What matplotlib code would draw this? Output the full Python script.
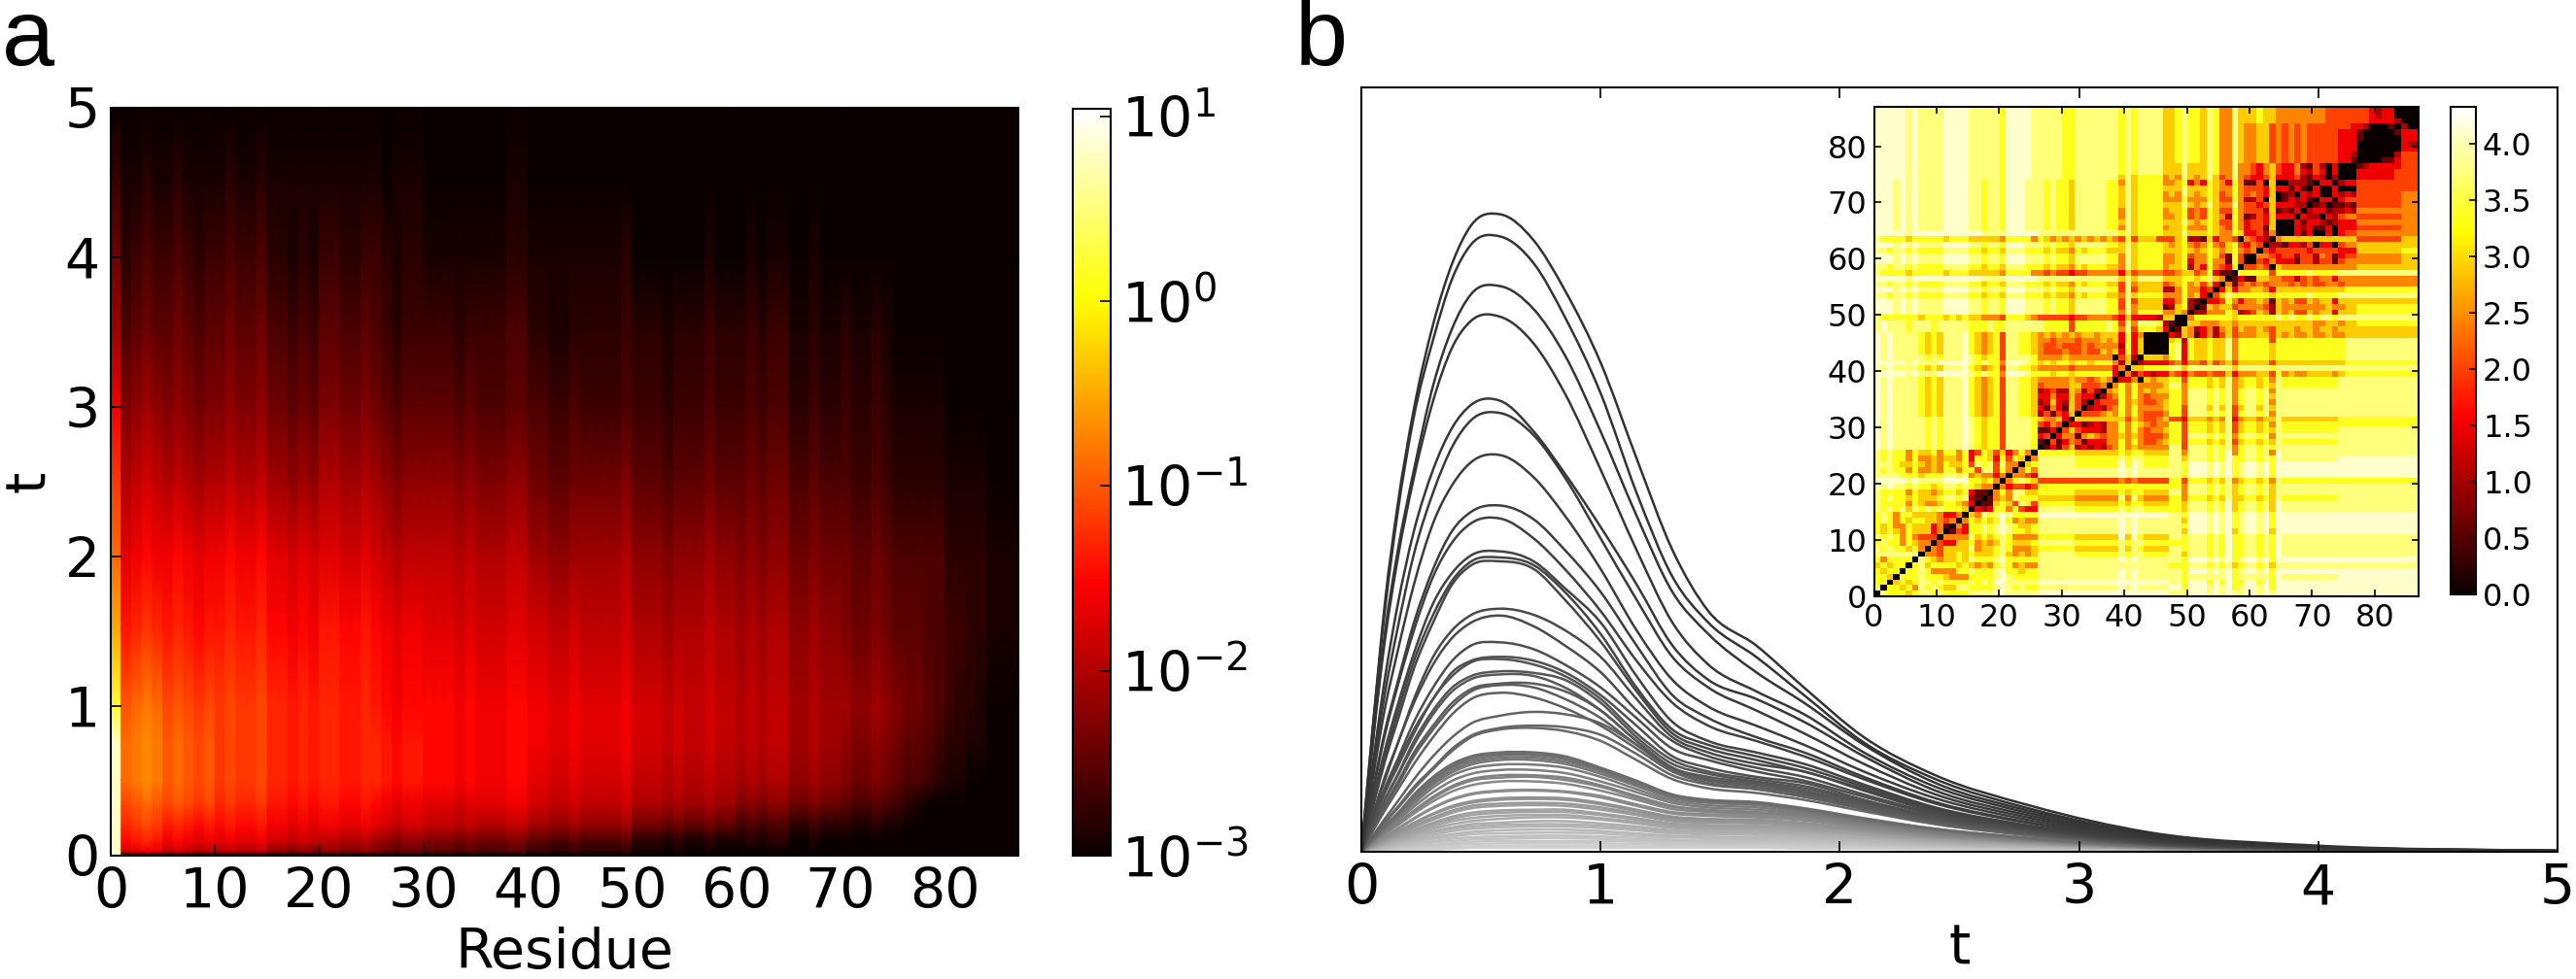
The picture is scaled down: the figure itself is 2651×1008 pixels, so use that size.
import numpy as np
import matplotlib
matplotlib.use("Agg")
import matplotlib.pyplot as plt
from matplotlib.colors import LogNorm
from matplotlib.patches import PathPatch
from matplotlib.path import Path

W, H = 2651, 1008

# ---- panel a: one code per residue (0..86) for each time; code k means 10**(-3 + 0.1*k)
heat_t = [0, 0.03, 0.1, 0.2, 0.35, 0.5, 0.75, 1, 1.5, 2, 2.5, 3, 3.5, 4, 4.5, 5]
heat_rows = [
    "C",
    "Ccdedbcbab abaab88787 8877876566 5554544455 3322322223 1110100100",
    "Cfghgefede deddeccbcb bbaab98788 7776766677 5544544445 2221211211 1212200100",
    "Chijighgfg fgffgeeded eeddedcbcc bbbabaaabb 9988988889 6665655655 3434422322 2112110000",
    "Cjklkjkjij hihhiggfgf ggffgfedee dddcddddee ccbbcbbbbc aaa9a99a99 7878866766 5445432100",
    "Clmnmklkjk ijiijhhghg hhgghhgfgg fffefeeeff ddccdccccd bbbabaabaa 9a9aa88988 7667654432 1100000",
    "Clmnmklkjk ijiijhhghg hhgghhgfgg fffefeeeff eeddedddde cccbcbbcbb ababb99a99 8778765543 2211000",
    "wklmljkjij ijiijhhghg hhgghgfeff fffefeeeff eeddedddde cccbcbbcbb ababb99a99 9889876654 3221000",
    "pghihghgfg ghgghffefe ggffgfedee dddcdcccdd ccbbcbbbbc aaa9aaabaa 9a9aa88988 7667655544 3322111",
    "ldefeefede efeefddcdc ddccdcbabb bbbabaaabb 998899999a 8887888988 7878866766 6556544444 2222111",
    "iabcbaba9a abaab99898 aa99a98788 8887877788 6655666667 5554555655 5656644544 4334322222 1111000",
    "e789878767 7877866565 7766765455 5554544455 4433433334 3332333433 3434422322 3223211111",
    "9456556545 5655644343 5544543233 3332333344 2211222223 2221222322 2323311211 2112100000",
    "6234334323 3433422121 3322332122 1111111122 1111111112 0000000100 0101100100",
    "3112112111 1211211111 1111110111 0000000011",
    "0",
]
heat_ticks_x = [0, 10, 20, 30, 40, 50, 60, 70, 80]
heat_ticks_y = [0, 1, 2, 3, 4, 5]

# ---- panel b: curves read at these times (height in % of the axes)
curve_t = [0, .05, .1, .15, .22, .3, .38, .46, .58, .72, .85, 1, 1.15, 1.3, 1.45, 1.65, 1.85, 2.1, 2.4, 2.8, 3.3, 4, 5]
curves = [
    [0, 17, 33, 45, 58, 69, 77, 82, 83.4, 80, 73.5, 64, 51.5, 39.5, 31.5, 27, 21.5, 15, 10, 6, 2.5, .8, .1],
    [0, 17, 32, 44, 57, 67, 75, 79.5, 80.5, 77, 70, 60, 47, 36, 30, 25.5, 20.5, 14.3, 9.5, 5.6, 2.3, .7, .1],
    [0, 15, 29, 39, 50, 61, 68.5, 73, 74, 71, 65, 55, 44, 34, 28.5, 23.5, 19.5, 14, 9, 5.3, 2.2, .7, .1],
    [0, 15, 28, 38, 49, 59, 66, 69.5, 70, 66.5, 60, 50, 39.5, 30, 24.5, 21, 18, 13, 8.5, 5, 2, .6, .1],
    [0, 12, 23, 32, 42, 50, 55.5, 58.5, 59, 55, 49.5, 42.5, 35, 27, 22.5, 20, 17, 12.5, 8, 4.7, 1.9, .6, .1],
    [0, 11, 21, 29, 39, 47, 53, 56.5, 57.4, 54.5, 49, 41, 33, 25.5, 21.5, 18.5, 15.5, 11.5, 7.5, 4.4, 1.8, .5, .1],
    [0, 10, 19, 26, 35, 43, 48, 51, 51.9, 49, 44, 37, 29, 22.5, 19, 16.5, 14, 10.5, 7, 4.1, 1.7, .5, .1],
    [0, 8.5, 16, 22, 30, 37, 42, 44.5, 45.3, 43.5, 39.5, 34, 27, 20.5, 17.5, 15, 13, 9.8, 6.5, 3.8, 1.6, .5, .1],
    [0, 8, 15.5, 21.5, 29, 36, 40.5, 43, 43.6, 41, 37, 31.5, 25, 19.5, 16.5, 14.5, 12.5, 9.5, 6.3, 3.7, 1.5, .5, .1],
    [0, 7, 13.5, 19, 26, 32.5, 36.5, 38.8, 39.3, 38, 34.5, 30, 23, 17, 14.5, 13, 11.5, 8.8, 5.8, 3.4, 1.4, .4, .1],
    [0, 6.5, 12.5, 18, 25, 31, 35.5, 38, 38.5, 37.5, 34, 28.5, 21.5, 16, 14, 12.5, 11, 8.5, 5.6, 3.3, 1.4, .4, .1],
    [0, 6, 12, 17, 24, 30, 35, 37.5, 38, 37, 33, 27.5, 21, 15.5, 13.5, 12, 10.5, 8.2, 5.4, 3.2, 1.3, .4, .1],
    [0, 5, 10, 14, 20, 25.5, 29, 31, 31.8, 31, 29, 25.5, 20, 15, 13, 11.5, 10.5, 8, 5.2, 3.1, 1.3, .4, .1],
    [0, 5, 9.5, 14, 19.5, 24.5, 28, 30, 30.9, 29.5, 27, 23.5, 18.5, 14.5, 12.5, 11, 9.8, 7.5, 5, 3, 1.2, .4, .1],
    [0, 4.5, 8.5, 12, 17, 21.5, 25, 27, 27.4, 26.5, 24.5, 21.5, 17.5, 13.5, 12, 10.5, 9.3, 7.2, 4.8, 2.9, 1.2, .4, .1],
    [0, 4, 8, 11.5, 16, 20, 23.5, 25, 25.5, 25, 23.5, 20.5, 16.5, 12.5, 11, 9.8, 9, 6.8, 4.6, 2.8, 1.1, .3, .1],
    [0, 4, 7.8, 11, 15.5, 20, 23, 24.8, 25.2, 24.5, 23, 20, 15.5, 12, 10.5, 9.5, 8.6, 6.6, 4.5, 2.7, 1.1, .3, .1],
    [0, 3.5, 7, 10, 14.5, 18.5, 21.5, 23, 23.6, 23.4, 22.5, 19.5, 15, 11.5, 10.2, 9.2, 8.3, 6.4, 4.3, 2.6, 1, .3, .1],
    [0, 3.5, 6.8, 9.8, 14, 18, 21, 22.6, 23.2, 23, 21.5, 18.5, 14.5, 11, 9.8, 9, 8, 6.2, 4.2, 2.5, 1, .3, .1],
    [0, 3.2, 6.2, 9, 13, 16.5, 19.5, 21.3, 22, 22, 21, 18.5, 14.5, 11, 9.5, 8.8, 7.8, 6, 4.1, 2.4, 1, .3, .1],
    [0, 3, 6, 8.6, 12.5, 16, 19, 21, 21.8, 21.5, 20, 17.5, 14, 10.8, 9.3, 8.5, 7.5, 5.8, 4, 2.4, 1, .3, .1],
    [0, 2.8, 5.5, 8, 11.5, 15, 18, 20, 20.8, 20.2, 18.8, 16.5, 13.5, 10.5, 9, 8.2, 7.2, 5.6, 3.8, 2.3, .9, .3, .1],
    [0, 2.2, 4.4, 6.5, 9.5, 12.5, 15, 16.8, 17.8, 18.3, 18, 16.8, 14, 11, 9.5, 8.8, 7.6, 5.8, 3.9, 2.3, .9, .3, .1],
    [0, 2, 4, 5.8, 8.5, 11, 13.5, 15.2, 16.2, 16.5, 16.3, 15.3, 12.8, 10, 8.8, 8.2, 7.2, 5.6, 3.7, 2.2, .9, .3, .1],
    [0, 2, 3.9, 5.6, 8.2, 10.8, 13.2, 15, 16, 16.2, 15.8, 14.5, 12, 9.5, 8.3, 7.7, 6.8, 5.3, 3.6, 2.1, .9, .3, .1],
    [0, 1.8, 3.5, 5, 7.5, 9.8, 11.5, 12.5, 13, 13, 12.5, 11, 9.3, 7.5, 6.8, 6.5, 5.7, 4.4, 3, 1.8, .8, .2, .1],
    [0, 1.7, 3.4, 4.9, 7.2, 9.5, 11.2, 12.3, 12.8, 12.8, 12.3, 10.8, 9.2, 7.4, 6.7, 6.4, 5.6, 4.3, 3, 1.8, .8, .2, .1],
    [0, 1.7, 3.3, 4.7, 7, 9.2, 11, 12, 12.6, 12.6, 12.1, 10.7, 9, 7.3, 6.6, 6.3, 5.5, 4.2, 2.9, 1.7, .7, .2, .1],
    [0, 1.6, 3.2, 4.6, 6.8, 9, 10.7, 11.7, 12.3, 12.3, 11.8, 10.5, 8.8, 7.1, 6.5, 6.2, 5.4, 4.1, 2.9, 1.7, .7, .2, .1],
    [0, 1.6, 3.1, 4.5, 6.6, 8.8, 10.4, 11.4, 12, 12, 11.5, 10.2, 8.6, 7, 6.4, 6.1, 5.3, 4, 2.8, 1.7, .7, .2, .1],
    [0, 1.5, 3, 4.3, 6.3, 8.4, 10, 10.9, 11.4, 11.4, 11, 9.8, 8.2, 6.7, 6.1, 5.8, 5.1, 3.9, 2.7, 1.6, .7, .2, .1],
    [0, 1.4, 2.8, 4, 5.9, 7.8, 9.3, 10.2, 10.7, 10.7, 10.3, 9.2, 7.8, 6.4, 5.8, 5.5, 4.9, 3.8, 2.6, 1.6, .7, .2, .1],
    [0, 1.3, 2.6, 3.7, 5.4, 7.2, 8.6, 9.5, 10, 10, 9.7, 8.7, 7.3, 6, 5.5, 5.2, 4.7, 3.6, 2.5, 1.5, .6, .2, .1],
    [0, 1.3, 2.5, 3.6, 5.3, 7, 8.4, 9.3, 9.7, 9.8, 9.4, 8.5, 7.1, 5.9, 5.4, 5.1, 4.6, 3.5, 2.4, 1.5, .6, .2, .1],
    [0, 1.2, 2.4, 3.4, 5, 6.6, 7.9, 8.7, 9.2, 9.2, 8.9, 8, 6.8, 5.6, 5.2, 4.9, 4.4, 3.4, 2.3, 1.4, .6, .2, .1],
    [0, 1, 2.1, 3, 4.4, 5.8, 6.9, 7.6, 8, 8.1, 7.9, 7.3, 6.2, 5.2, 4.9, 4.7, 4.2, 3.2, 2.2, 1.4, .6, .2, .1],
    [0, 1, 2, 2.9, 4.3, 5.7, 6.8, 7.5, 7.9, 8, 7.8, 7.1, 6, 5, 4.7, 4.5, 4.1, 3.1, 2.2, 1.3, .6, .2, .1],
    [0, .9, 1.8, 2.6, 3.8, 5, 6, 6.6, 7, 7.1, 7, 6.4, 5.5, 4.6, 4.3, 4.2, 3.8, 2.9, 2, 1.3, .5, .2, .1],
    [0, .9, 1.7, 2.5, 3.7, 4.9, 5.8, 6.4, 6.8, 6.9, 6.8, 6.2, 5.3, 4.4, 4.1, 4, 3.6, 2.8, 2, 1.2, .5, .2, .1],
    [0, .8, 1.6, 2.3, 3.4, 4.5, 5.4, 6, 6.3, 6.4, 6.3, 5.8, 5, 4.2, 3.9, 3.8, 3.4, 2.7, 1.9, 1.2, .5, .2, .1],
    [0, .8, 1.5, 2.2, 3.2, 4.2, 5.1, 5.7, 6, 6.1, 6, 5.5, 4.8, 4, 3.8, 3.7, 3.3, 2.6, 1.8, 1.1, .5, .1, .1],
    [0, .7, 1.4, 2, 2.9, 3.8, 4.6, 5.1, 5.4, 5.5, 5.5, 5, 4.4, 3.7, 3.5, 3.4, 3.1, 2.4, 1.7, 1.1, .5, .1, .1],
    [0, .6, 1.3, 1.9, 2.7, 3.6, 4.3, 4.8, 5.1, 5.2, 5.2, 4.8, 4.2, 3.5, 3.3, 3.2, 2.9, 2.3, 1.6, 1, .4, .1, .1],
    [0, .6, 1.2, 1.7, 2.5, 3.3, 4, 4.4, 4.7, 4.8, 4.8, 4.4, 3.9, 3.3, 3.1, 3, 2.7, 2.2, 1.5, 1, .4, .1, .1],
    [0, .5, 1.1, 1.6, 2.3, 3, 3.6, 4, 4.3, 4.5, 4.5, 4.2, 3.7, 3.1, 2.9, 2.8, 2.6, 2.1, 1.4, .9, .4, .1, .1],
    [0, .5, 1, 1.4, 2.1, 2.7, 3.2, 3.6, 3.8, 4, 4, 3.7, 3.3, 2.8, 2.7, 2.6, 2.4, 1.9, 1.3, .9, .4, .1, .1],
    [0, .4, .9, 1.3, 1.9, 2.5, 3, 3.3, 3.5, 3.6, 3.6, 3.4, 3, 2.6, 2.5, 2.4, 2.2, 1.8, 1.2, .8, .4, .1, .1],
    [0, .4, .8, 1.2, 1.7, 2.2, 2.7, 3, 3.2, 3.3, 3.3, 3.1, 2.8, 2.4, 2.3, 2.2, 2, 1.6, 1.1, .7, .3, .1, .1],
    [0, .3, .7, 1, 1.5, 1.9, 2.3, 2.6, 2.8, 2.9, 2.9, 2.7, 2.4, 2.1, 2, 1.9, 1.8, 1.4, 1, .7, .3, .1, .1],
    [0, .3, .6, .9, 1.3, 1.7, 2, 2.3, 2.4, 2.5, 2.5, 2.4, 2.1, 1.9, 1.8, 1.7, 1.6, 1.3, .9, .6, .3, .1, .1],
    [0, .2, .5, .7, 1.1, 1.4, 1.7, 1.9, 2, 2.1, 2.1, 2, 1.8, 1.6, 1.5, 1.5, 1.4, 1.1, .8, .5, .2, .1, .1],
    [0, .2, .4, .6, .9, 1.2, 1.4, 1.6, 1.7, 1.8, 1.8, 1.7, 1.5, 1.4, 1.3, 1.3, 1.2, 1, .7, .5, .2, .1, 0],
    [0, .2, .3, .5, .7, .9, 1.1, 1.3, 1.4, 1.4, 1.4, 1.4, 1.3, 1.1, 1.1, 1.1, 1, .8, .6, .4, .2, .1, 0],
    [0, .1, .3, .4, .6, .7, .9, 1, 1.1, 1.1, 1.1, 1.1, 1, .9, .9, .9, .8, .7, .5, .3, .2, .1, 0],
    [0, .1, .2, .3, .4, .5, .6, .7, .8, .8, .8, .8, .7, .7, .7, .7, .6, .5, .4, .3, .1, 0, 0],
    [0, .1, .1, .2, .3, .3, .4, .5, .5, .5, .5, .5, .5, .5, .5, .5, .4, .4, .3, .2, .1, 0, 0],
]
curve_ticks = [0, 1, 2, 3, 4, 5]

# ---- inset: lower triangle of the distance map, one digit per cell
inset_levels = [0, 0.6, 1.05, 1.5, 2.0, 2.45, 2.9, 3.35, 3.75, 4.1]
# far-field stretches that repeat from row to row (columns 0-25 or 0-38)
L = "9898888767" "6888976567" "488776"
L2 = "9999989888" "9999987877" "599987"
L3 = "9898888878" "7888987677" "488887"
A = "9998989888" "8999988788" "7999888787" "768888877"
B = "9999989888" "8999988888" "7999988888" "778888888"
C = "8878878777" "7888877677" "6888777676" "657677766"
D = "8777767777" "7677766666" "5777755454" "434455555"
E = "8777777677" "7676766555" "4777654444" "434455554"
F = "9999989999" "9999999888" "8999998888" "888888888"
G = "8988878887" "8888877787" "7888888777" "747777787"
stem = "7878888667" "8776875586" "6676655555" "55544"
stem2 = "7878888667" "8776875586" "5566454545" "44444"
inset_rows = [
    "0", "80", "770", "7760", "76770", "676770", "7577770", "88888880", "878776750", "7877576550",
    "87875754440", "767657666350", "7675576663510", "78757677665450", "787577666653350",
    "8787868787877760", "87777576556776530", "878776766678878210", "8777757665677673110",
    "98988787767887876550", "999998988889999776750", "8888777677788785655350",
    "87877575565775774884750", "888766765657667487848550", "8787757556566573776374760",
    "87877576675775734764635750",
    L3 + "0", L3 + "10", L3 + "340", L3 + "1130", L3 + "43540", L3 + "655630",
    L + "2414360", L + "31531640", L + "236326420", L + "3353364330", L + "23422652420",
    L + "455556644450", L + "5555565545650",
    L2 + "77677677777730", L + "555554555555350", L2 + "6767767767775260",
    L3 + "55556555555504620", L + "544454454465637360", L + "5445444545555273600",
    L + "55455545556563736000", L + "565656566566637350000",
    G + "584777630", G + "4858887210", E + "3633332660", A + "5857777556" + "50",
    A + "4856666126" + "720", A + "4846666335" + "7210", C + "5867777555" + "75630",
    A + "4846666225" + "755340", C + "4856666456" + "7564630", F + "6868888666" + "77678650",
    D + "3645555445" + "664573110", C + "5867777566" + "7253754370",
    A + "5867777556" + "7355755174" + "0",
    A + "5867777556" + "7455764174" + "00", C + "6867777666" + "7656765675" + "450",
    A + "6867777656" + "7545754674" + "3540", D[:26] + "7656565656565" + "4746664446" + "7221635540" + "54320",
    F + "7867777666" + "8666765576" + "334250", A + "5867777566" + "7555765475" + "3441600",
    A + "6867777666" + "8656764475" + "34436000", A + "5867777556" + "7454765275" + "124363330",
    A + "5867777566" + "7454764475" + "4442612130", A + "6867777666" + "8656865585" + "4434633322" + "0",
    A + "6867777555" + "7555764475" + "2240601323" + "10", A + "6867777565" + "8656764575" + "4543601203" + "230",
    A + "6867777666" + "8666765575" + "4443633131" + "0300", A + "5867777556" + "7353765375" + "1140600222" + "10330",
    B + "6867777565" + "8656864585" + "4334633342" + "132020", B + "7878888666" + "8666875585" + "5435643353" + "2430300",
    B + "7878888666" + "8666875585" + "5435643352" + "14203000",
    B + stem2 + "3310", B + stem2 + "33200", B + stem2 + "333000", B + stem2 + "3330000",
    B + stem2 + "33310000", B + stem2 + "333100000", B + stem2 + "4433200010",
    B + stem + "44444333320", B + stem + "444443233000", B + stem + "4444432330000",
]
inset_ticks = [0, 10, 20, 30, 40, 50, 60, 70, 80]
inset_cbar_ticks = [0, 0.5, 1, 1.5, 2, 2.5, 3, 3.5, 4]


def px_axes(fig, left, top, right, bottom):
    # axes position given in pixels of the picture, top-left origin
    return fig.add_axes([left / W, 1 - bottom / H, (right - left) / W, (bottom - top) / H])


def style_ticks(ax, size, length=8):
    ax.tick_params(which="both", direction="in", top=True, right=True, labelsize=size,
                   length=length, width=1.2, pad=8)
    for s in ax.spines.values():
        s.set_linewidth(1.5)


def curve_path(x, y):
    # draws through the read values with bezier segments, so the peaks do not look cut
    x, y = np.asarray(x, float), np.asarray(y, float)
    m = np.gradient(y, x)
    verts, codes = [(x[0], y[0])], [Path.MOVETO]
    for i in range(len(x) - 1):
        d = (x[i + 1] - x[i]) / 3
        verts += [(x[i] + d, y[i] + m[i] * d), (x[i + 1] - d, y[i + 1] - m[i + 1] * d), (x[i + 1], y[i + 1])]
        codes += [Path.CURVE4] * 3
    return Path(verts, codes)


CODES = "0123456789abcdefghijklmnopqrstuvwxyzABCDEFG"
heat = np.zeros((len(heat_t), 87))
for i, row in enumerate(heat_rows):
    row = row.replace(" ", "").ljust(87, "0")[:87]
    heat[i] = [10 ** (-3 + 0.1 * CODES.index(c)) for c in row]

dist = np.zeros((87, 87))
for i, row in enumerate(inset_rows):
    row = row.ljust(i + 1, "6")[:i + 1]
    dist[i, :i + 1] = [inset_levels[int(c)] for c in row]
dist = dist + np.tril(dist, -1).T
np.fill_diagonal(dist, 0)

fig = plt.figure(figsize=(W / 100, H / 100), dpi=100, facecolor="white")

# panel a
ax = px_axes(fig, 114, 111, 1047.5, 881)
# doubled x edges keep each residue flat, colour only blends along t
x_edges = np.repeat(np.arange(88), 2)[1:-1]
mesh = ax.pcolormesh(x_edges, heat_t, np.repeat(heat, 2, axis=1), shading="gouraud",
                     cmap="hot", norm=LogNorm(1e-3, 11))
ax.set_xlim(0, 87)
ax.set_ylim(0, 5)
ax.set_xticks(heat_ticks_x)
ax.set_yticks(heat_ticks_y)
style_ticks(ax, 41)
ax.set_xlabel("Residue", fontsize=41, labelpad=5)
ax.set_ylabel("t", fontsize=41, labelpad=6)

cax = px_axes(fig, 1104, 112, 1143, 881)
cb = fig.colorbar(mesh, cax=cax)
cb.set_ticks([1e-3, 1e-2, 1e-1, 1, 10])
cb.ax.minorticks_off()
cb.ax.tick_params(direction="in", labelsize=41, length=8, width=1.2, pad=8)
cb.outline.set_linewidth(1.5)

# panel b
bx = px_axes(fig, 1401, 90, 2632, 877)
n = len(curves)
for i, c in reversed(list(enumerate(curves))):
    grey = 0.2 + 0.62 * (i / (n - 1)) ** 1.3
    bx.add_patch(PathPatch(curve_path(curve_t, c), fill=False, edgecolor=str(grey), lw=1.8))
bx.set_xlim(0, 5)
bx.set_ylim(0, 100)
bx.set_xticks(curve_ticks)
bx.set_yticks([])
style_ticks(bx, 41)
bx.set_xlabel("t", fontsize=41, labelpad=5)

# inset
ix = px_axes(fig, 1928.5, 110, 2489, 614)
im = ix.imshow(dist, origin="lower", cmap="hot", vmin=0, vmax=4.33, extent=[0, 87, 0, 87],
               aspect="auto", interpolation="nearest")
ix.set_xticks(inset_ticks)
ix.set_yticks(inset_ticks)
style_ticks(ix, 23, length=5)
ix.tick_params(pad=5)

icax = px_axes(fig, 2522, 110, 2548, 612)
icb = fig.colorbar(im, cax=icax)
icb.set_ticks(inset_cbar_ticks)
icb.ax.tick_params(direction="in", labelsize=23, length=5, width=1.2, pad=5)
icb.outline.set_linewidth(1.5)

fig.text(2 / W, 1 - 67 / H, "a", fontsize=70, family="Liberation Sans")
fig.text(1333 / W, 1 - 67 / H, "b", fontsize=70, family="Liberation Sans")

fig.savefig("out.png", dpi=100)
